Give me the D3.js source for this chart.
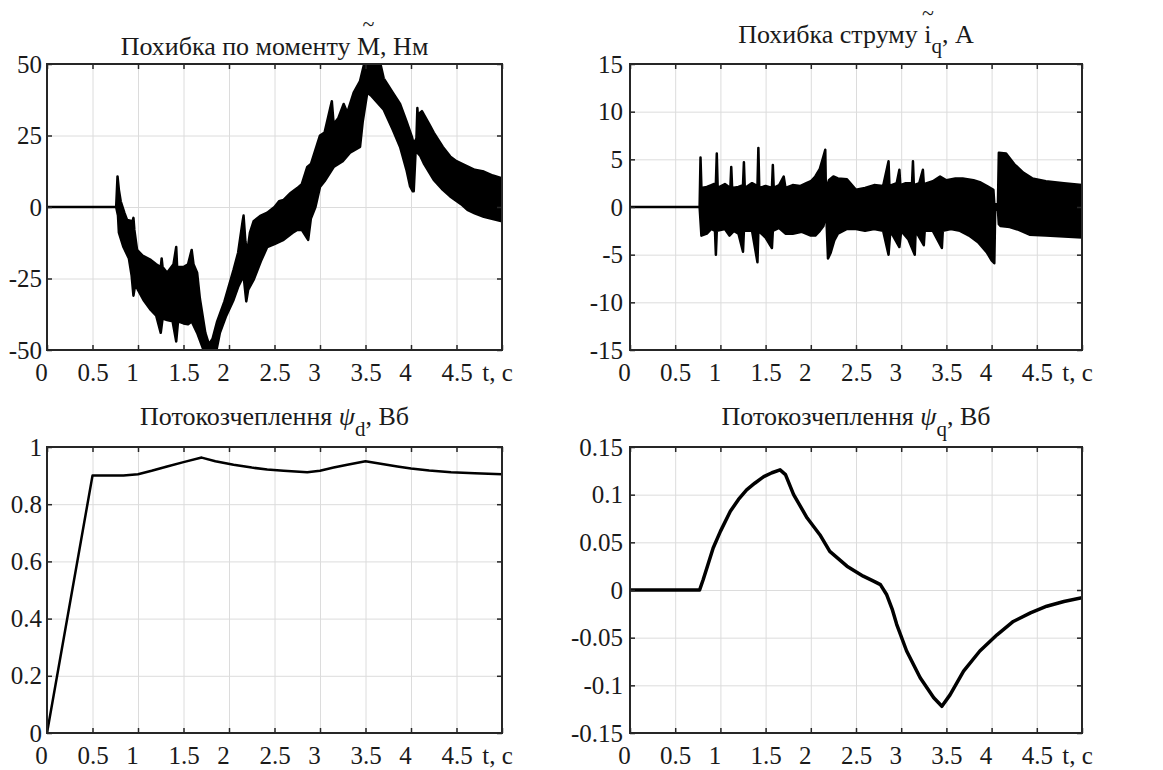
<!DOCTYPE html>
<html>
<head>
<meta charset="utf-8">
<script src="https://cdn.jsdelivr.net/npm/d3@7/dist/d3.min.js"></script>
<style>
  body { margin: 0; background: #fff; }
  svg text { font-family: "Liberation Serif", "Times New Roman", serif; fill: #1a1a1a; }
  .grid line { stroke: #dcdcdc; stroke-width: 1; }
  .grid path { display: none; }
  .ticks path { display: none; }
  .ticks line { stroke: #262626; stroke-width: 1.5; }
  .labels path, .labels line { display: none; }
</style>
</head>
<body>
<div id="chart"></div>
<script>
/* common x axis */
var xTicks = [0, 0.5, 1, 1.5, 2, 2.5, 3, 3.5, 4, 4.5, 5];

/* torque error band (upper / lower envelope), Нм */
var mUpT = [0, 0.76, 0.775, 0.79, 0.81, 0.85, 0.88, 0.94, 0.95, 0.96, 0.99, 1.05, 1.14, 1.2, 1.25, 1.26, 1.27, 1.32, 1.39, 1.42, 1.43, 1.5, 1.55, 1.59, 1.61, 1.65, 1.68, 1.74, 1.78, 1.82, 1.87, 1.95, 2.05, 2.1, 2.15, 2.16, 2.18, 2.2, 2.23, 2.27, 2.35, 2.42, 2.5, 2.55, 2.6, 2.68, 2.75, 2.8, 2.86, 2.9, 3.0, 3.05, 3.13, 3.15, 3.2, 3.26, 3.3, 3.37, 3.44, 3.5, 3.65, 3.7, 3.8, 3.88, 3.95, 4.01, 4.03, 4.06, 4.07, 4.09, 4.1, 4.12, 4.2, 4.25, 4.35, 4.43, 4.5, 4.62, 4.7, 4.8, 4.9, 5.0];
var mUpV = [0, 0, 10.7, 6, 2, -2, -4.5, -5, -3.8, -8, -15, -17, -18.5, -20, -21, -18, -21, -23, -20, -14, -21, -21, -20, -15, -20, -23, -32, -44, -48, -46, -40, -33, -22, -16, -5, -3, -12, -16, -9, -5, -3, -2, 0, 2, 2.5, 5, 6.6, 8, 14, 15, 25, 26, 37, 29, 31, 36, 33, 40, 44, 52, 52, 45, 40, 36, 30, 24.5, 22, 24, 34.6, 24, 33, 33.5, 29, 26, 21, 17.7, 16, 14.2, 13, 12.4, 11, 10];
var mLoT = [0, 0.76, 0.78, 0.79, 0.84, 0.9, 0.93, 0.95, 0.97, 1.0, 1.06, 1.14, 1.2, 1.25, 1.27, 1.32, 1.38, 1.42, 1.44, 1.5, 1.55, 1.59, 1.65, 1.72, 1.75, 1.85, 1.9, 1.97, 2.05, 2.1, 2.16, 2.19, 2.21, 2.27, 2.35, 2.42, 2.5, 2.6, 2.7, 2.75, 2.8, 2.87, 2.9, 2.95, 3.0, 3.05, 3.15, 3.25, 3.33, 3.44, 3.47, 3.52, 3.56, 3.7, 3.8, 3.88, 3.95, 3.99, 4.02, 4.03, 4.05, 4.07, 4.1, 4.14, 4.25, 4.35, 4.43, 4.55, 4.62, 4.7, 4.8, 4.9, 5.0];
var mLoV = [0, 0, -3, -9, -14, -18, -24, -31, -27, -29, -32.5, -36, -38, -44, -39, -39.5, -40, -47, -40, -40.7, -41, -40, -44, -50, -52, -52, -44, -38, -32.5, -28, -24, -33, -29, -25.5, -19, -14, -13, -11.5, -9, -8, -8, -11.5, -4, 0, 7, 9, 14, 16, 19, 21, 30, 40, 39, 34, 27, 21, 13, 7.2, 5.5, 5.5, 19, 19, 18, 15.3, 9.5, 6, 3.7, 1, -1, -2.2, -3.4, -4.2, -5];

/* current error band, A */
var iUpT = [0, 0.77, 0.78, 0.79, 0.85, 0.9, 0.95, 0.96, 0.97, 1.05, 1.11, 1.12, 1.13, 1.2, 1.25, 1.26, 1.27, 1.35, 1.41, 1.42, 1.43, 1.5, 1.57, 1.58, 1.59, 1.65, 1.7, 1.72, 1.8, 1.88, 1.95, 2.0, 2.05, 2.1, 2.14, 2.16, 2.17, 2.18, 2.2, 2.25, 2.3, 2.4, 2.5, 2.6, 2.7, 2.8, 2.86, 2.87, 2.95, 2.98, 2.99, 3.05, 3.12, 3.13, 3.14, 3.2, 3.24, 3.25, 3.35, 3.43, 3.5, 3.6, 3.68, 3.8, 3.87, 3.95, 4.02, 4.03, 4.07, 4.08, 4.16, 4.25, 4.35, 4.45, 4.6, 4.8, 5.0];
var iUpV = [0, 0, 5.2, 2, 2.1, 2.3, 2.5, 5.6, 2, 2.4, 2.0, 4.2, 2, 2.1, 2.3, 4.7, 2, 2.5, 2.2, 6.2, 2, 2.2, 2.0, 4.4, 2, 2.3, 3.2, 2, 2.3, 2.2, 2.5, 2.7, 3.2, 4, 5.3, 6, 0, 2.2, 2.8, 3.2, 3, 2.9, 1.8, 2, 2.3, 2.2, 4.8, 2.2, 2.5, 3.9, 2.3, 2.5, 2.5, 4.8, 2.3, 2.5, 3.9, 2.4, 2.7, 3.2, 2.8, 3, 3, 2.8, 2.6, 2.2, 1.8, 0.3, 0.3, 5.7, 5.6, 4.5, 3.6, 3.0, 2.7, 2.5, 2.3];
var iLoT = [0, 0.77, 0.79, 0.85, 0.9, 0.94, 0.95, 0.96, 1.05, 1.1, 1.15, 1.2, 1.25, 1.26, 1.35, 1.41, 1.42, 1.5, 1.57, 1.58, 1.65, 1.72, 1.8, 1.9, 2.0, 2.05, 2.1, 2.14, 2.17, 2.19, 2.22, 2.26, 2.3, 2.4, 2.5, 2.6, 2.7, 2.8, 2.86, 2.88, 2.98, 3.0, 3.08, 3.15, 3.16, 3.25, 3.26, 3.35, 3.45, 3.46, 3.55, 3.65, 3.75, 3.85, 3.95, 4.0, 4.03, 4.04, 4.07, 4.08, 4.1, 4.2, 4.3, 4.42, 4.6, 4.8, 5.0];
var iLoV = [0, 0, -3, -2.8, -2.3, -2.5, -5, -2.5, -2.3, -3, -2.5, -2.8, -4.7, -2.5, -2.5, -5.8, -2.5, -3.2, -4.3, -2.5, -2.2, -2.8, -2.8, -2.6, -3, -3, -2.5, -2.0, -0.5, -5.4, -4.8, -3.5, -2.8, -2.3, -2.3, -2.5, -2.3, -2.5, -5, -2.5, -4.2, -2.5, -3.4, -5, -2.5, -4, -2.5, -2.5, -4.3, -2.5, -2.3, -2.5, -3, -3.7, -4.8, -5.6, -5.9, -0.3, -0.3, -1.8, -2.0, -2.1, -2.4, -2.9, -3, -3.1, -3.2];

/* flux linkage psi_d, Вб */
var psiDT = [0, 0.5, 0.84, 1.0, 1.15, 1.32, 1.5, 1.7, 1.85, 2.05, 2.25, 2.42, 2.6, 2.86, 3.0, 3.15, 3.3, 3.5, 3.7, 3.85, 4.0, 4.2, 4.44, 4.7, 5.0];
var psiDV = [0, 0.9, 0.9, 0.905, 0.917, 0.932, 0.947, 0.963, 0.95, 0.938, 0.928, 0.921, 0.917, 0.912, 0.917, 0.928, 0.938, 0.95, 0.94, 0.932, 0.925, 0.918, 0.912, 0.908, 0.905];

/* flux linkage psi_q, Вб */
var psiQT = [0, 0.77, 0.81, 0.86, 0.92, 1.0, 1.11, 1.2, 1.29, 1.38, 1.48, 1.57, 1.66, 1.72, 1.81, 1.96, 2.1, 2.21, 2.4, 2.58, 2.7, 2.77, 2.84, 2.9, 2.95, 3.06, 3.21, 3.36, 3.45, 3.54, 3.69, 3.87, 4.06, 4.24, 4.43, 4.61, 4.8, 5.0];
var psiQV = [0, 0, 0.011, 0.026, 0.044, 0.0615, 0.0826, 0.095, 0.105, 0.112, 0.119, 0.123, 0.126, 0.121, 0.1, 0.0755, 0.058, 0.0405, 0.025, 0.0145, 0.009, 0.0056, -0.005, -0.02, -0.036, -0.064, -0.092, -0.113, -0.122, -0.11, -0.085, -0.064, -0.047, -0.033, -0.024, -0.017, -0.012, -0.008];

var yTicksM = [-50, -25, 0, 25, 50];
var yTicksI = [-15, -10, -5, 0, 5, 10, 15];
var yTicksD = [0, 0.2, 0.4, 0.6, 0.8, 1];
var yTicksQ = [-0.15, -0.1, -0.05, 0, 0.05, 0.1, 0.15];

var FONT = "'Liberation Serif', 'Times New Roman', serif";

var width = 1163, height = 770;
var svg = d3.select("#chart").append("svg")
            .attr("width", width)
            .attr("height", height);

var clipId = 0;

function drawPanel(p) {
  var g = svg.append("g").attr("transform", "translate(" + p.left + "," + p.top + ")");
  var x = d3.scaleLinear().domain([0, 5]).range([0, p.w]);
  var y = d3.scaleLinear().domain([p.yTicks[0], p.yTicks[p.yTicks.length - 1]]).range([p.h, 0]);

  clipId++;
  g.append("clipPath").attr("id", "clip" + clipId)
    .append("rect").attr("width", p.w).attr("height", p.h);

  // grid
  g.append("g").attr("class", "grid")
    .attr("transform", "translate(0," + p.h + ")")
    .call(d3.axisBottom(x).tickValues(xTicks).tickSize(-p.h).tickFormat(""));
  g.append("g").attr("class", "grid")
    .call(d3.axisLeft(y).tickValues(p.yTicks).tickSize(-p.w).tickFormat(""));

  var plot = g.append("g").attr("clip-path", "url(#clip" + clipId + ")");
  var line = d3.line().x(function(d) { return x(d[0]); }).y(function(d) { return y(d[1]); });

  if (p.band) {
    var up = p.band.upT.map(function(t, i) { return [t, p.band.upV[i]]; });
    var lo = p.band.loT.map(function(t, i) { return [t, p.band.loV[i]]; }).reverse();
    plot.append("path")
      .attr("d", line(up.concat(lo)) + "Z")
      .style("fill", "#000")
      .style("stroke", "#000")
      .style("stroke-width", 2.5)
      .style("stroke-linejoin", "round");
  } else {
    var pts = p.lineT.map(function(t, i) { return [t, p.lineV[i]]; });
    plot.append("path")
      .attr("d", line(pts))
      .style("fill", "none")
      .style("stroke", "#000")
      .style("stroke-width", p.lw)
      .style("stroke-linejoin", "round");
  }

  // inward ticks on all four sides
  g.append("g").attr("class", "ticks").attr("transform", "translate(0," + p.h + ")")
    .call(d3.axisBottom(x).tickValues(xTicks).tickSize(-5).tickFormat(""));
  g.append("g").attr("class", "ticks")
    .call(d3.axisTop(x).tickValues(xTicks).tickSize(-5).tickFormat(""));
  g.append("g").attr("class", "ticks")
    .call(d3.axisLeft(y).tickValues(p.yTicks).tickSize(-5).tickFormat(""));
  g.append("g").attr("class", "ticks").attr("transform", "translate(" + p.w + ",0)")
    .call(d3.axisRight(y).tickValues(p.yTicks).tickSize(-5).tickFormat(""));

  g.append("rect")
    .attr("width", p.w).attr("height", p.h)
    .style("fill", "none").style("stroke", "#262626").style("stroke-width", 2);

  // tick labels (whole numbers sit a little left of their tick, as in the source)
  g.append("g").attr("class", "labels").attr("transform", "translate(0," + p.h + ")")
    .call(d3.axisBottom(x).tickValues(xTicks).tickSize(0).tickPadding(13)
      .tickFormat(function(d) { return d === 5 ? "t, c" : String(d); }))
    .selectAll("text")
    .attr("dx", function(d) { return d === 5 ? -5 : (d % 1 === 0 ? -6 : 0); });
  g.append("g").attr("class", "labels")
    .call(d3.axisLeft(y).tickValues(p.yTicks).tickSize(0).tickPadding(p.pad)
      .tickFormat(function(d) { return String(d); }));
  g.selectAll(".labels")
    .attr("font-family", FONT).attr("font-size", 25);
  g.selectAll(".labels text")
    .style("font-family", FONT).style("fill", "#1a1a1a");

  // title, with the tilde accent kept in the same text element
  var title = g.append("text")
    .attr("x", p.w / 2).attr("y", p.titleY)
    .attr("text-anchor", "middle")
    .style("font-family", FONT)
    .style("font-size", "26px")
    .style("fill", "#1a1a1a");
  p.title(title);

  if (p.tildeIndex !== undefined) {
    var box = title.node().getExtentOfChar(p.tildeIndex);
    title.append("tspan")
      .attr("x", box.x + box.width / 2)
      .attr("y", p.tildeY)
      .style("font-size", "22px")
      .text("~");
  }
}

drawPanel({
  left: 47, top: 64, w: 455, h: 286, pad: 5,
  yTicks: yTicksM, titleY: -9, tildeY: -33,
  band: { upT: mUpT, upV: mUpV, loT: mLoT, loV: mLoV },
  title: function(t) { t.append("tspan").text("Похибка по моменту М, Нм"); },
  tildeIndex: 19
});

drawPanel({
  left: 630, top: 64, w: 452, h: 286, pad: 7,
  yTicks: yTicksI, titleY: -21, tildeY: -44,
  band: { upT: iUpT, upV: iUpV, loT: iLoT, loV: iLoV },
  title: function(t) {
    t.append("tspan").text("Похибка струму i");
    t.append("tspan").attr("dy", 10).style("font-size", "21px").text("q");
    t.append("tspan").attr("dy", -10).text(", А");
  },
  tildeIndex: 15
});

drawPanel({
  left: 47, top: 447, w: 455, h: 286, pad: 5, lw: 2.5,
  yTicks: yTicksD, titleY: -22,
  lineT: psiDT, lineV: psiDV,
  title: function(t) {
    t.append("tspan").text("Потокозчеплення ");
    t.append("tspan").style("font-style", "italic").text("ψ");
    t.append("tspan").attr("dy", 11).style("font-size", "21px").text("d");
    t.append("tspan").attr("dy", -11).text(", Вб");
  }
});

drawPanel({
  left: 630, top: 447, w: 452, h: 286, pad: 7, lw: 3.5,
  yTicks: yTicksQ, titleY: -22,
  lineT: psiQT, lineV: psiQV,
  title: function(t) {
    t.append("tspan").text("Потокозчеплення ");
    t.append("tspan").style("font-style", "italic").text("ψ");
    t.append("tspan").attr("dy", 11).style("font-size", "21px").text("q");
    t.append("tspan").attr("dy", -11).text(", Вб");
  }
});
</script>
</body>
</html>
